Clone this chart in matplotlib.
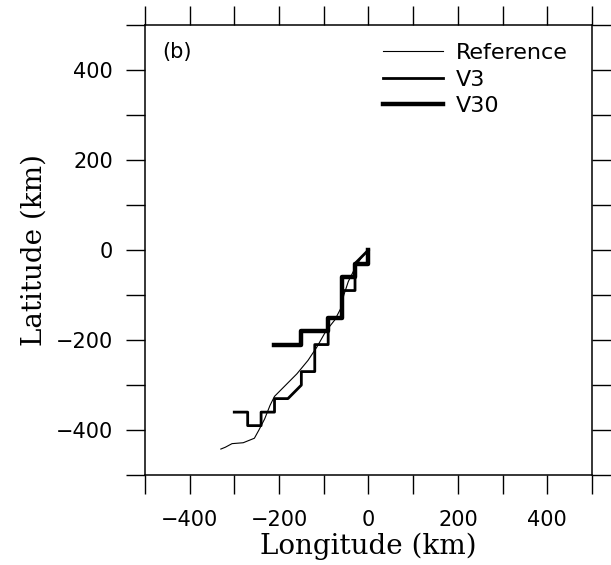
import numpy as np
import matplotlib.pyplot as plt
from matplotlib.ticker import MultipleLocator, FuncFormatter

# reference track (km)
ref_lon = [0, -15, -30, -45, -55, -62, -75, -95, -115, -135, -160, -185,
           -210, -220, -232, -245, -255, -280, -305, -320, -330]
ref_lat = [0, -15, -40, -70, -100, -130, -155, -180, -215, -245, -275, -300,
           -325, -345, -375, -400, -418, -428, -430, -438, -442]

# V3 track
v3_lon = [0, -30, -30, -60, -60, -90, -90, -120, -120, -150, -150, -180,
          -210, -210, -240, -240, -270, -270, -300]
v3_lat = [0, -30, -90, -90, -150, -150, -210, -210, -270, -270, -300, -330,
          -330, -360, -360, -390, -390, -360, -360]

# V30 track
v30_lon = [0, 0, -30, -30, -60, -60, -90, -90, -150, -150, -212]
v30_lat = [0, -30, -30, -60, -60, -150, -150, -180, -180, -210, -210]

plt.rcParams['font.family'] = ['DejaVu Sans']

fig = plt.figure(figsize=(6.11, 5.65), dpi=100)
ax = fig.add_axes([0.237, 0.159, 0.732, 0.797])

ax.plot(ref_lon, ref_lat, color='black', lw=0.8, label='Reference')
ax.plot(v3_lon, v3_lat, color='black', lw=2.0, label='V3')
ax.plot(v30_lon, v30_lat, color='black', lw=3.2, label='V30')

ax.set_xlim(-500, 500)
ax.set_ylim(-500, 500)
ax.xaxis.set_major_locator(MultipleLocator(100))
ax.yaxis.set_major_locator(MultipleLocator(100))
fmt = FuncFormatter(lambda v, p: '' if abs(v) > 450 or int(round(v)) % 200 else
                    f'{int(round(v))}'.replace('-', '\u2212'))
ax.xaxis.set_major_formatter(fmt)
ax.yaxis.set_major_formatter(fmt)
ax.tick_params(which='major', direction='out', length=14, width=1.0,
               labelsize=15, top=True, right=True, pad=9)
ax.tick_params(axis='x', pad=11)
for s in ax.spines.values():
    s.set_linewidth(1.1)

ax.set_xlabel('Longitude (km)', family='DejaVu Serif', fontsize=20, labelpad=2)
ax.set_ylabel('Latitude (km)', family='DejaVu Serif', fontsize=20, labelpad=6)

ax.text(-460, 440, '(b)', fontsize=15, va='center', ha='left')

ax.legend(loc='upper left', bbox_to_anchor=(0.532, 0.96), frameon=False,
          fontsize=16, handlelength=2.7, handletextpad=0.6, labelspacing=0.3,
          borderpad=0, borderaxespad=0)

fig.savefig('out.png', dpi=100)
